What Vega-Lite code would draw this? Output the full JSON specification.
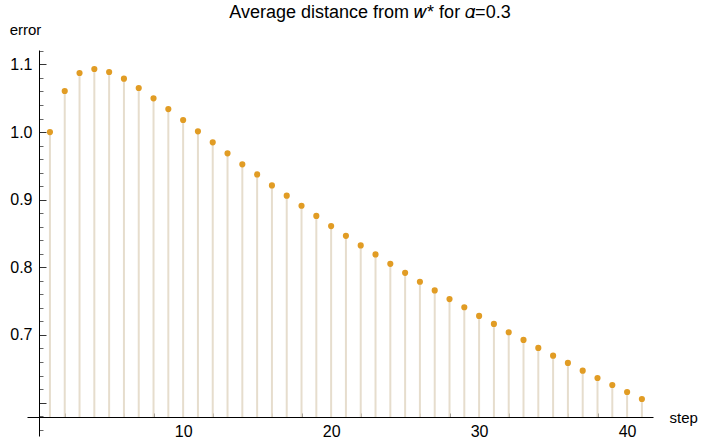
{
  "$schema": "https://vega.github.io/schema/vega-lite/v6.json",
  "autosize": "none",
  "width": 626,
  "height": 386,
  "padding": {"left": 27, "top": 50, "right": 48, "bottom": 8},
  "background": "white",
  "title": {"text": "Average distance from 𝑤* for 𝛼=0.3", "font": "Liberation Sans", "fontSize": 18, "fontWeight": "normal", "color": "#000", "anchor": "middle", "frame": "group", "baseline": "alphabetic", "dx": 30, "dy": 21, "offset": 7},
  "config": {"view": {"stroke": null}},
  "data": {"values": [
    {"step": 1, "error": 1.0},
    {"step": 2, "error": 1.0607},
    {"step": 3, "error": 1.0873},
    {"step": 4, "error": 1.0932},
    {"step": 5, "error": 1.0888},
    {"step": 6, "error": 1.0789},
    {"step": 7, "error": 1.0651},
    {"step": 8, "error": 1.0498},
    {"step": 9, "error": 1.034},
    {"step": 10, "error": 1.0178},
    {"step": 11, "error": 1.001},
    {"step": 12, "error": 0.9848},
    {"step": 13, "error": 0.9685},
    {"step": 14, "error": 0.9522},
    {"step": 15, "error": 0.9374},
    {"step": 16, "error": 0.9211},
    {"step": 17, "error": 0.9059},
    {"step": 18, "error": 0.891},
    {"step": 19, "error": 0.876},
    {"step": 20, "error": 0.861},
    {"step": 21, "error": 0.8466},
    {"step": 22, "error": 0.8324},
    {"step": 23, "error": 0.8191},
    {"step": 24, "error": 0.8052},
    {"step": 25, "error": 0.7919},
    {"step": 26, "error": 0.7786},
    {"step": 27, "error": 0.7658},
    {"step": 28, "error": 0.753},
    {"step": 29, "error": 0.741},
    {"step": 30, "error": 0.7281},
    {"step": 31, "error": 0.7163},
    {"step": 32, "error": 0.704},
    {"step": 33, "error": 0.6926},
    {"step": 34, "error": 0.6808},
    {"step": 35, "error": 0.6694},
    {"step": 36, "error": 0.6586},
    {"step": 37, "error": 0.6472},
    {"step": 38, "error": 0.6364},
    {"step": 39, "error": 0.626},
    {"step": 40, "error": 0.6157},
    {"step": 41, "error": 0.6053}
  ]},
  "layer": [
    {
      "mark": {"type": "rule", "color": "#E6DDCD", "strokeWidth": 2},
      "encoding": {
        "x": {"field": "step", "type": "quantitative",
          "scale": {"domain": [-0.55, 41.75], "nice": false, "zero": false},
          "axis": {"orient": "bottom", "offset": -19, "tickCount": 200,
            "values": [2,4,6,8,10,12,14,16,18,20,22,24,26,28,30,32,34,36,38,40],
            "tickSize": {"condition": {"test": "datum.value % 10 === 0", "value": -7}, "value": -4},
            "tickColor": {"condition": {"test": "datum.value % 10 === 0", "value": "#333"}, "value": "#666"},
            "labelExpr": "datum.value % 10 === 0 ? format(datum.value, 'd') : ''",
            "labelFlush": false, "labelOverlap": false, "grid": false,
            "domainColor": "#000", "domainWidth": 1, "tickWidth": 1,
            "labelFont": "Liberation Sans", "labelFontSize": 16, "labelColor": "#000", "labelPadding": 13,
            "title": "step", "titleX": 642, "titleY": 0, "titleAlign": "left", "titleBaseline": "middle",
            "titleFont": "Liberation Sans", "titleFontSize": 15, "titleFontWeight": "normal", "titleColor": "#000"}},
        "y": {"field": "error", "type": "quantitative",
          "scale": {"domain": [0.5506, 1.1213], "nice": false, "zero": false},
          "axis": {"orient": "left", "offset": -12, "tickCount": 200,
            "values": [0.56,0.58,0.6,0.62,0.64,0.66,0.68,0.7,0.72,0.74,0.76,0.78,0.8,0.82,0.84,0.86,0.88,0.9,0.92,0.94,0.96,0.98,1.0,1.02,1.04,1.06,1.08,1.1,1.12],
            "tickSize": {"condition": {"test": "abs(datum.value*10 - round(datum.value*10)) < 0.001", "value": -7}, "value": -4},
            "tickColor": {"condition": {"test": "abs(datum.value*10 - round(datum.value*10)) < 0.001", "value": "#333"}, "value": "#666"},
            "labelExpr": "abs(datum.value*10 - round(datum.value*10)) < 0.001 && datum.value > 0.65 ? format(datum.value, '.1f') : ''",
            "labelFlush": false, "labelOverlap": false, "grid": false,
            "domainColor": "#000", "domainWidth": 1, "tickWidth": 1,
            "labelFont": "Liberation Sans", "labelFontSize": 16, "labelColor": "#000", "labelPadding": 14,
            "title": "error", "titleAngle": 0, "titleX": -14, "titleY": -21, "titleAlign": "center", "titleBaseline": "middle",
            "titleFont": "Liberation Sans", "titleFontSize": 15, "titleFontWeight": "normal", "titleColor": "#000"}},
        "y2": {"datum": 0.5787}
      }
    },
    {
      "mark": {"type": "circle", "color": "#E19C24", "size": 38, "opacity": 1},
      "encoding": {
        "x": {"field": "step", "type": "quantitative"},
        "y": {"field": "error", "type": "quantitative"}
      }
    }
  ]
}
